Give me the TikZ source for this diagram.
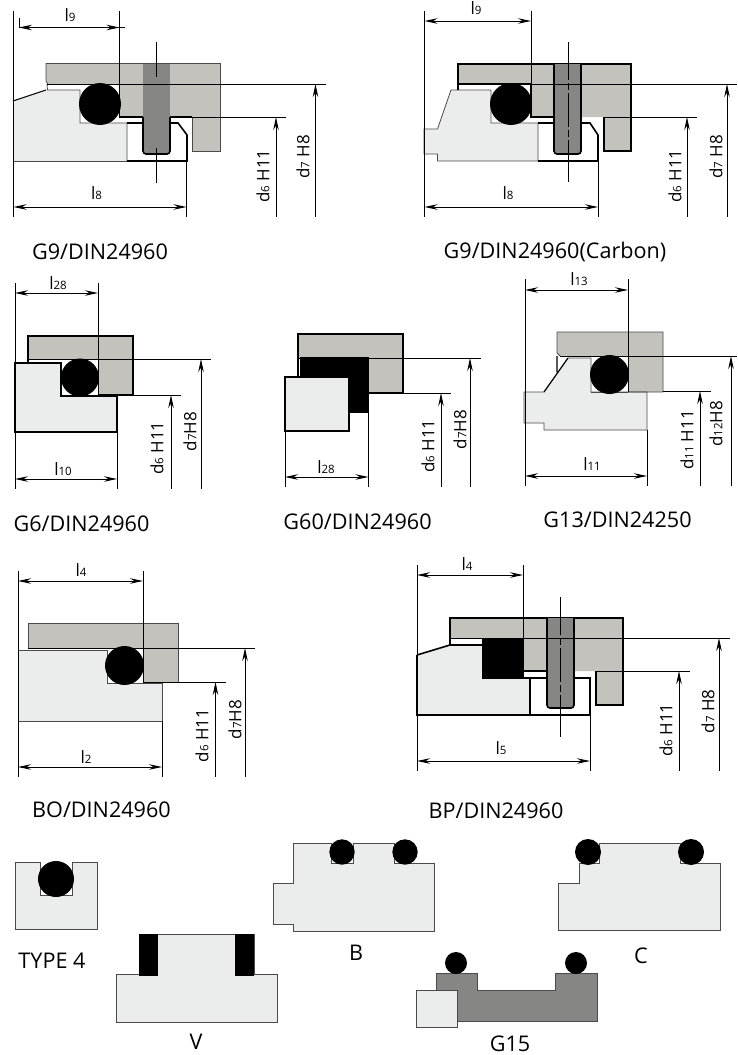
\documentclass[tikz,border=0pt]{standalone}
\usepackage{fontspec}
\setmainfont{Open Sans}
\usetikzlibrary{arrows.meta}
\definecolor{bodyc}{HTML}{EBEDEC}
\definecolor{greyc}{HTML}{C4C2BD}
\definecolor{boltc}{HTML}{868684}
\definecolor{edgec}{HTML}{4A4A4A}
\newcommand{\lsub}[2]{#1{\fontsize{11.5}{11.5}\selectfont #2}}
\tikzset{
  bodyfill/.style={fill=bodyc},
  greyfill/.style={fill=greyc},
  boltfill/.style={fill=boltc},
  thinedge/.style={draw=edgec,line width=.8pt},
  heavy/.style={draw=black,line width=1.6pt,line join=miter},
  medium/.style={draw=black,line width=1.1pt},
  dimline/.style={draw=black,line width=1pt},
  dimarrow/.style={dimline,{Stealth[length=13pt,width=5.5pt]}-{Stealth[length=13pt,width=5.5pt]}},
  uparrow/.style={dimline,-{Stealth[length=13pt,width=5.5pt]}},
  ring/.style={fill=black},
  captext/.style={inner sep=0pt,font=\fontsize{21.6}{24}\selectfont},
  dimtext/.style={inner sep=0pt,font=\fontsize{17}{18}\selectfont},
  vtext/.style={inner sep=0pt,rotate=90,font=\fontsize{17}{18}\selectfont},
  centerdash/.style={draw=black,line width=1pt,dash pattern=on 38pt off 3pt on 7pt off 3pt on 34pt off 3pt on 7pt off 3pt}
}
\begin{document}
\begin{tikzpicture}[x=1pt,y=-1pt]
\useasboundingbox (0,0) rectangle (737,1055);
\fill[white] (0,0) rectangle (737,1055);

% ---------- G9
\path[greyfill] (46,63.5)--(220,63.5)--(220,151)--(192,151)--(192,117)--(119,117)--(119,84)--(48,84)--(46,81)--cycle;
\path[bodyfill] (13,101)--(46,90)--(80,90)--(80,123)--(127,123)--(127,161)--(13,161)--cycle;
\draw[thinedge] (119,63.5)--(46,63.5)--(46,81)--(48,84);
\draw[thinedge] (119,63.5)--(220,63.5)--(220,151)--(192,151)--(192,117);
\draw[thinedge] (47,84)--(47.5,90)--(80,90)--(80,123)--(127,123)--(127,161);
\draw[medium] (13,101)--(46,90);
\draw[thinedge] (13,101)--(13,161)--(127,161);
\draw[heavy] (127,123)--(178,123)--(187,135)--(187,161)--(127,161);
\draw[medium] (119,117)--(143,117) (170,117)--(192,117);
\path[boltfill] (143,63.5)--(170,63.5)--(170,117)--(143,117)--cycle;
\path[boltfill,rounded corners=3pt] (143,110)--(143,154)--(170,154)--(170,110)--cycle;
\draw[heavy,rounded corners=3pt] (143,117)--(143,154)--(170,154)--(170,117);
\fill[ring] (100,104) circle (21);
\draw[dimline] (13.5,11)--(13.5,217) (119.5,11)--(119.5,117) (186.5,135)--(186.5,217);
\draw[dimline] (19,17.5)--(19,27.5);
\draw[dimline,-{Stealth[length=13pt,width=5.5pt]}] (125,27.5)--(19,27.5);
\draw[dimline,-{Stealth[length=13pt,width=5.5pt]}] (19,27.5)--(119.5,27.5);
\draw[dimarrow] (13.5,207)--(186.5,207);
\draw[dimline] (47,84)--(326,84) (192,117)--(286,117);
\draw[uparrow] (276,217)--(276,117);
\draw[uparrow] (315.5,217)--(315.5,84);
\draw[dimline] (156,42)--(156,77) (156,148)--(156,183);
\node[dimtext] (a1) at (70,15) {\lsub{l}{9}};
\node[dimtext] (a2) at (96.5,193) {\lsub{l}{8}};
\node[vtext] (a3) at (263,176) {\lsub{d}{6} H11};
\node[vtext] (a4) at (303,157) {\lsub{d}{7} H8};
\node[captext] (a5) at (100,252) {G9/DIN24960};

% ---------- G9 Carbon
\path[greyfill] (458,64)--(631,64)--(631,151)--(604,151)--(604,117)--(531,117)--(531,84)--(458,84)--cycle;
\path[bodyfill] (424,129)--(437.5,129)--(451,90)--(491,90)--(491,123)--(538,123)--(538,161)--(437.5,161)--(437.5,154)--(424,154)--cycle;
\draw[thinedge] (424,129)--(437.5,129)--(451,90)--(491,90)--(491,123)--(538,123)--(538,161)--(437.5,161)--(437.5,154)--(424,154)--cycle;
\draw[heavy] (458,90)--(458,64)--(631,64)--(631,151)--(604,151)--(604,117);
\draw[heavy] (458,84)--(531,84) ;
\draw[heavy] (531,84)--(531,117)--(554,117);
\draw[heavy] (538,161)--(598,161)--(598,135)--(590,123)--(538,123);
\path[boltfill,rounded corners=3pt] (554,64)--(554,154)--(581,154)--(581,64);
\path[boltfill] (554,64) rectangle (581,84);
\draw[heavy,rounded corners=3pt] (554,64)--(554,154)--(581,154)--(581,64);
\fill[ring] (511,104) circle (21);
\draw[dimline] (424.5,11)--(424.5,217) (531,11)--(531,84) (598,135)--(598,217);
\draw[dimarrow] (424.5,21)--(531,21);
\draw[dimarrow] (424.5,207)--(598,207);
\draw[dimline] (458,84)--(737,84) (604,117)--(697,117);
\draw[uparrow] (687,217)--(687,117);
\draw[uparrow] (727,217)--(727,84);
\draw[centerdash] (568,42)--(568,148);
\draw[dimline] (568,148)--(568,182);
\node[dimtext] (b1) at (476,8) {\lsub{l}{9}};
\node[dimtext] (b2) at (508,193) {\lsub{l}{8}};
\node[vtext] (b3) at (675,176) {\lsub{d}{6} H11};
\node[vtext] (b4) at (716,157) {\lsub{d}{7} H8};
\node[captext] (b5) at (555,252) {G9/DIN24960(Carbon)};

% ---------- G6
\path[greyfill] (28,336)--(133,336)--(133,395)--(98,395)--(98,359)--(28,359)--cycle;
\path[bodyfill] (15,363)--(61,363)--(61,396)--(117,396)--(117,432)--(15,432)--cycle;
\draw[heavy] (28,363)--(28,336)--(133,336)--(133,395)--(98,395);
\draw[heavy] (15,363)--(61,363)--(61,396)--(117,396)--(117,432)--(15,432)--cycle;
\fill[ring] (80,377.5) circle (19);
\draw[dimline] (15,283)--(15,489) (98,283)--(98,395) (117,432)--(117,489);
\draw[dimarrow] (15,293)--(98,293);
\draw[dimarrow] (15,479)--(117,479);
\draw[dimline] (28,359)--(211,359) (117,395)--(181,395);
\draw[uparrow] (171,489)--(171,395);
\draw[uparrow] (201,489)--(201,359);
\node[dimtext] (c1) at (58,283) {\lsub{l}{28}};
\node[dimtext] (c2) at (63,469) {\lsub{l}{10}};
\node[vtext] (c3) at (157,448) {\lsub{d}{6} H11};
\node[vtext] (c4) at (190,431.5) {\lsub{d}{7}H8};
\node[captext] (c5) at (81.5,524) {G6/DIN24960};

% ---------- G60
\path[greyfill] (298,334)--(403,334)--(403,393)--(369,393)--(369,358)--(298,358)--cycle;
\fill[black] (300,357) rectangle (369,413);
\path[bodyfill] (285,377) rectangle (349,431);
\draw[heavy] (298,377)--(298,334)--(403,334)--(403,393)--(369,393);
\draw[heavy] (285,377) rectangle (349,431);
\draw[dimline] (285,431)--(285,487) (368.5,413)--(368.5,487);
\draw[dimarrow] (285,477)--(368.5,477);
\draw[dimline] (298,358)--(481,358) (403,393)--(451,393);
\draw[uparrow] (441,487)--(441,393);
\draw[uparrow] (470,487)--(470,358);
\node[dimtext] (d1) at (326,467) {\lsub{l}{28}};
\node[vtext] (d3) at (428,446) {\lsub{d}{6} H11};
\node[vtext] (d4) at (460,429.5) {\lsub{d}{7}H8};
\node[captext] (d5) at (357.5,522) {G60/DIN24960};

% ---------- G13
\path[greyfill] (557,332)--(663,332)--(663,392)--(628,392)--(628,356)--(560,356)--(557,353)--cycle;
\path[bodyfill] (524,392)--(544,392)--(568,358)--(591,358)--(591,392)--(647,392)--(647,430)--(544,430)--(544,423)--(524,423)--cycle;
\draw[thinedge] (628,332)--(557,332)--(557,353)--(560,356) (628,332)--(663,332)--(663,392)--(628,392);
\draw[thinedge] (524,392)--(544,392)--(568,358)--(591,358)--(591,392)--(647,392)--(647,430)--(544,430)--(544,423)--(524,423)--cycle;
\draw[medium] (544,392)--(568,358) (557,356)--(557,372);
\draw[thinedge] (591,392)--(628,392);
\fill[ring] (609.5,374.5) circle (19.5);
\draw[dimline] (525,279)--(525,486) (628,279)--(628,392) (647,430)--(647,486);
\draw[dimarrow] (525,290)--(628,290);
\draw[dimarrow] (525,476)--(647,476);
\draw[dimline] (560,356)--(737,356) (663,391)--(711,391);
\draw[uparrow] (700,486)--(700,391);
\draw[uparrow] (731,486)--(731,356);
\node[dimtext] (e1) at (579,279) {\lsub{l}{13}};
\node[dimtext] (e2) at (592,464) {\lsub{l}{11}};
\node[vtext] (e3) at (687,440) {\lsub{d}{11} H11};
\node[vtext] (e4) at (716,424) {\lsub{d}{12}H8};
\node[captext] (e5) at (617.5,520) {G13/DIN24250};

% ---------- BO
\path[greyfill] (28,623)--(178,623)--(178,682)--(143,682)--(143,648)--(28,648)--cycle;
\path[bodyfill] (18,650)--(107,650)--(107,683)--(162,683)--(162,721)--(18,721)--cycle;
\draw[thinedge] (28,648)--(28,623)--(178,623)--(178,682)--(143,682);
\draw[thinedge] (18,650)--(107,650)--(107,683)--(162,683)--(162,721)--(18,721)--cycle;
\fill[ring] (124.5,665.5) circle (19.5);
\draw[dimline] (18,571)--(18,777) (143,571)--(143,682) (162,721)--(162,777);
\draw[dimarrow] (18,581)--(143,581);
\draw[dimarrow] (18,767)--(162,767);
\draw[dimline] (28,648)--(255,648) (143,682)--(226,682);
\draw[uparrow] (215.5,777)--(215.5,682);
\draw[uparrow] (245,777)--(245,648);
\node[dimtext] (f1) at (81,570) {\lsub{l}{4}};
\node[dimtext] (f2) at (86,757) {\lsub{l}{2}};
\node[vtext] (f3) at (202,735.5) {\lsub{d}{6} H11};
\node[vtext] (f4) at (235,719.5) {\lsub{d}{7}H8};
\node[captext] (f5) at (101.5,810) {BO/DIN24960};

% ---------- BP
\path[greyfill] (450,618)--(623,618)--(623,705)--(596,705)--(596,671)--(523,671)--(523,638)--(450,638)--cycle;
\path[bodyfill] (417,655)--(450,645)--(482,645)--(482,679)--(530,679)--(530,715)--(417,715)--cycle;
\fill[black] (482,638) rectangle (524,679);
\draw[heavy] (450,645)--(450,618)--(623,618)--(623,705)--(596,705)--(596,671);
\draw[heavy] (417,655)--(450,645)--(482,645);
\draw[heavy] (417,655)--(417,715)--(590,715);
\draw[medium] (530,679)--(530,715) (524,678)--(590,678)--(590,715);
\draw[medium] (524,671)--(547,671);
\path[boltfill,rounded corners=3pt] (547,618)--(547,708)--(574,708)--(574,618)--cycle;
\path[boltfill] (547,618) rectangle (574,640);
\draw[heavy,rounded corners=3pt] (547,618)--(547,708)--(574,708)--(574,618);
\draw[dimline] (417,565)--(417,771) (523,565)--(523,638) (590,715)--(590,771);
\draw[dimarrow] (417,575)--(523,575);
\draw[dimarrow] (417,761)--(590,761);
\draw[dimline] (450,638)--(730,638) (596,671)--(690,671);
\draw[uparrow] (679,771)--(679,671);
\draw[uparrow] (719,771)--(719,638);
\draw[centerdash] (560,597)--(560,703);
\draw[dimline] (560,703)--(560,737);
\node[dimtext] (g1) at (467,564) {\lsub{l}{4}};
\node[dimtext] (g2) at (501,748) {\lsub{l}{5}};
\node[vtext] (g3) at (666,730) {\lsub{d}{6} H11};
\node[vtext] (g4) at (708,711.5) {\lsub{d}{7} H8};
\node[captext] (g5) at (496,811) {BP/DIN24960};

% ---------- TYPE 4
\path[bodyfill,thinedge] (15,862)--(40,862)--(40,895)--(72,895)--(72,862)--(97,862)--(97,929)--(15,929)--cycle;
\fill[ring] (56,879) circle (18);
\node[captext] (h1) at (52,961) {TYPE 4};

% ---------- V
\path[bodyfill,thinedge] (116,974)--(139,974)--(139,934)--(254,934)--(254,974)--(277,974)--(277,1022)--(116,1022)--cycle;
\fill[black] (139,934) rectangle (158,976);
\fill[black] (235,934) rectangle (254,976);
\node[captext] (h2) at (196,1042) {V};

% ---------- B
\path[bodyfill,thinedge] (293,843)--(331,843)--(331,863)--(353,863)--(353,843)--(394,843)--(394,863)--(434,863)--(434,931)--(293,931)--(293,924)--(273,924)--(273,883)--(293,883)--cycle;
\fill[ring] (342,852) circle (12.7);
\fill[ring] (405,852) circle (12.7);
\node[captext] (h3) at (356,953) {B};

% ---------- C
\path[bodyfill,thinedge] (558,883)--(579,883)--(579,863)--(599,863)--(599,843)--(680,843)--(680,863)--(720,863)--(720,930)--(558,930)--cycle;
\fill[ring] (588,852) circle (13);
\fill[ring] (691,852) circle (13);
\node[captext] (h4) at (641,956) {C};

% ---------- G15
\path[fill=boltc,thinedge] (436,990)--(436,973)--(477,973)--(477,990)--(555,990)--(555,973)--(597,973)--(597,1021)--(456,1021)--(456,990)--cycle;
\path[bodyfill,thinedge] (416,990)--(457,990)--(457,1027)--(416,1027)--cycle;
\fill[ring] (456,963) circle (11);
\fill[ring] (576,963) circle (11);
\node[captext] (h5) at (510,1044) {G15};
\end{tikzpicture}
\end{document}
